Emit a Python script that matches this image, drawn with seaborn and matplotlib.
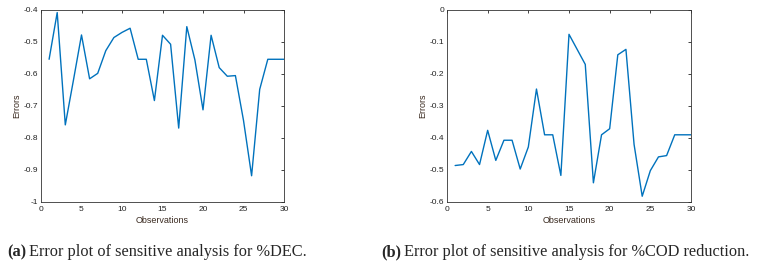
import numpy as np
import pandas as pd
import matplotlib
matplotlib.use('Agg')
import matplotlib.pyplot as plt
import seaborn as sns

# Observações 1..30
obs = list(range(1, 31))

# Erros - %DEC
erros_dec = [-0.554, -0.408, -0.759, -0.62, -0.478, -0.615, -0.598, -0.527, -0.486, -0.470,
             -0.457, -0.554, -0.554, -0.683, -0.479, -0.507, -0.769, -0.452, -0.556, -0.712,
             -0.479, -0.580, -0.607, -0.605, -0.745, -0.918, -0.648, -0.554, -0.554, -0.554]

# Erros - %COD reduction
erros_cod = [-0.486, -0.483, -0.442, -0.483, -0.376, -0.470, -0.407, -0.407, -0.497, -0.428,
             -0.247, -0.390, -0.390, -0.517, -0.076, -0.123, -0.170, -0.540, -0.390, -0.371,
             -0.140, -0.123, -0.420, -0.582, -0.502, -0.459, -0.455, -0.390, -0.390, -0.390]

legendas = ['Error plot of sensitive analysis for %DEC.',
            'Error plot of sensitive analysis for %COD reduction.']
letras = ['(a)', '(b)']

sns.set_style('white')
plt.rcParams['font.family'] = ['Liberation Sans', 'DejaVu Sans']

df = pd.DataFrame({'obs': obs, 'dec': erros_dec, 'cod': erros_cod})

W, H = 757, 266
fig = plt.figure(figsize=(W / 100, H / 100), dpi=100)
ax1 = fig.add_axes([41 / W, (H - 202) / H, 243 / W, 192 / H])
ax2 = fig.add_axes([447 / W, (H - 202) / H, 244 / W, 192 / H])

cor = '#0072BD'
for ax, col, ylim, yt in [(ax1, 'dec', (-1, -0.4), [-1, -0.9, -0.8, -0.7, -0.6, -0.5, -0.4]),
                          (ax2, 'cod', (-0.6, 0), [-0.6, -0.5, -0.4, -0.3, -0.2, -0.1, 0])]:
    sns.lineplot(data=df, x='obs', y=col, ax=ax, color=cor, linewidth=1.0)
    ax.set_xlim(0, 30)
    ax.set_ylim(*ylim)
    ax.set_xticks([0, 5, 10, 15, 20, 25, 30])
    ax.set_yticks(yt)
    ax.set_yticklabels(['%g' % v for v in yt])
    ax.tick_params(direction='in', length=2.5, width=0.6, labelsize=6,
                   top=True, right=True, pad=2, colors='#222222')
    ax.tick_params(axis='x', pad=3)
    for s in ax.spines.values():
        s.set_linewidth(0.6)
        s.set_color('#333333')
    ax.set_xlabel('Observations', fontsize=6.5, labelpad=2, color='#3a2a20')
    ax.set_ylabel('Errors', fontsize=6.5, labelpad=2, color='#3a2a20')

# legendas das figuras
fig.canvas.draw()
r = fig.canvas.get_renderer()
for x0, letra, txt in [(7, letras[0], legendas[0]), (381, letras[1], legendas[1])]:
    t = fig.text(x0 / W, 1 - 252 / H, letra, fontsize=11.8, fontweight='bold',
                 family='Liberation Serif', va='center', ha='left')
    bb = t.get_window_extent(renderer=r)
    fig.text((bb.x1 + 3) / W, 1 - 252 / H, txt, fontsize=11.8,
             family='Liberation Serif', va='center', ha='left')

fig.savefig('out.png', dpi=100)
